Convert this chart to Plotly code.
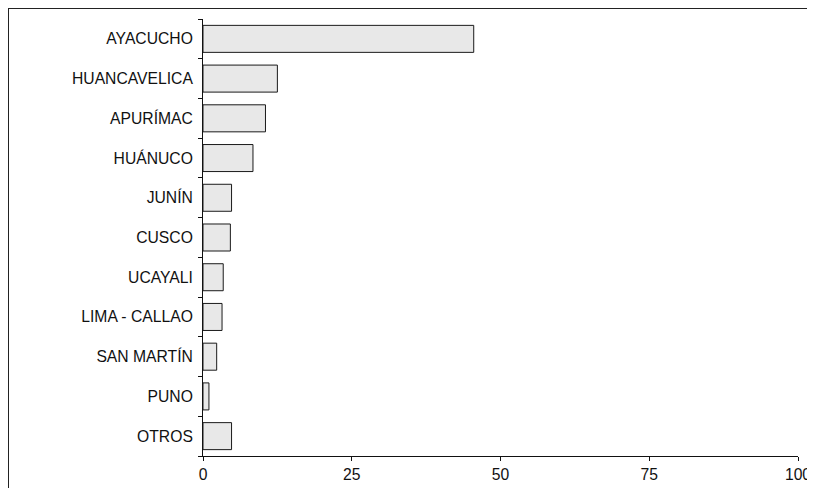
import plotly.graph_objects as go

categories = ["AYACUCHO", "HUANCAVELICA", "APURÍMAC", "HUÁNUCO", "JUNÍN", "CUSCO",
              "UCAYALI", "LIMA - CALLAO", "SAN MARTÍN", "PUNO", "OTROS"]
values = [45.5, 12.5, 10.5, 8.4, 4.8, 4.6, 3.4, 3.2, 2.3, 1.0, 4.8]
x_ticks = [0, 25, 50, 75, 100]

fig = go.Figure(go.Bar(
    x=values, y=categories, orientation="h",
    marker=dict(color="#e8e8e8", line=dict(color="#1a1a1a", width=1)),
))

# page has an 8px body margin; the figure sits at (8, 8) and fills the rest
W, H = 799, 480
L, R, T, B = 195, 9, 11, 32
pw, ph = W - L - R, H - T - B

def px(x):
    return (x - L) / pw

def py(y):
    return (H - B - y) / ph

fig.update_layout(
    width=W, height=H,
    margin=dict(l=L, r=R, t=T, b=B, autoexpand=False),
    paper_bgcolor="white", plot_bgcolor="white",
    bargap=0.32,
    showlegend=False,
    font=dict(family="Liberation Sans, Arial, sans-serif", size=15.7, color="#111"),
    xaxis=dict(range=[0, 100], tickvals=x_ticks, showgrid=False, zeroline=False,
               showline=True, linecolor="#111", linewidth=1,
               ticks="outside", ticklen=4, tickcolor="#111",
               ticklabeloverflow="allow", automargin=False,
               tickfont=dict(size=15.7)),
    yaxis=dict(categoryorder="array", categoryarray=categories[::-1],
               showgrid=False, zeroline=False, automargin=False,
               showline=True, linecolor="#111", linewidth=1,
               ticks="outside", ticklen=4, tickcolor="#111", tickson="boundaries",
               ticklabelstandoff=6,
               tickfont=dict(size=15.7)),
    shapes=[
        dict(type="line", xref="paper", yref="paper",
             x0=px(0), x1=px(W + 8), y0=py(0), y1=py(0),
             line=dict(color="#222", width=2), layer="below"),
        dict(type="line", xref="paper", yref="paper",
             x0=px(0), x1=px(0), y0=py(0), y1=py(H + 8),
             line=dict(color="#222", width=2), layer="below"),
    ],
)

fig.write_html(
    "out.html",
    config={"displayModeBar": False},
    post_script=(
        "document.documentElement.style.overflow='hidden';"
        "document.body.style.overflow='hidden';"
        "document.querySelectorAll('svg.main-svg').forEach(function(s){s.style.overflow='visible';});"
    ),
)
